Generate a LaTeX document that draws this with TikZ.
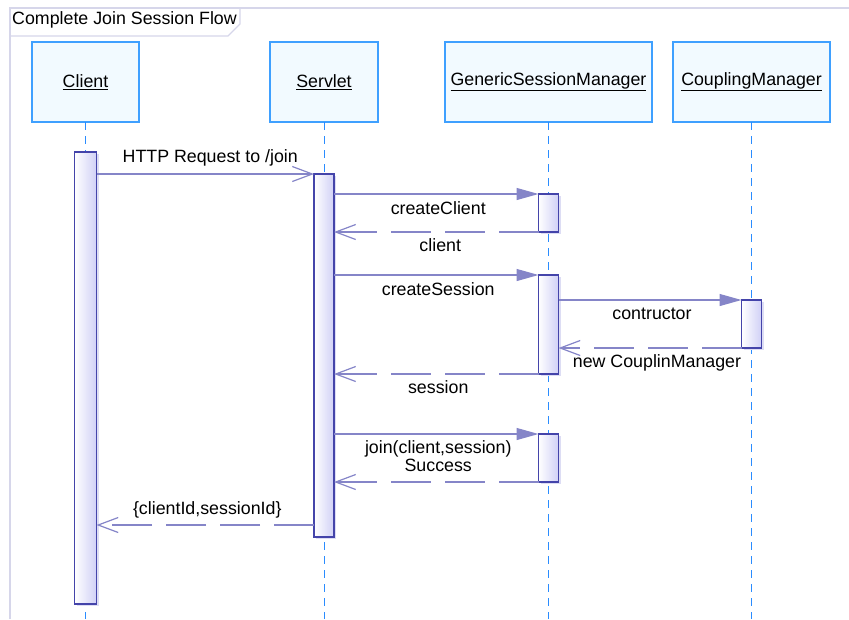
\documentclass[tikz,border=0pt]{standalone}
\usepackage{fontspec}
\setmainfont{Liberation Sans}
\usepackage{tikz}
\usetikzlibrary{shadows,shadings}
\usetikzlibrary{positioning, arrows.meta}
\usepackage{xcolor}

\definecolor{objline}{HTML}{3FA0FF}
\definecolor{objfill}{HTML}{F2FAFF}
\definecolor{frameline}{HTML}{D6D6EA}
\definecolor{msgline}{HTML}{8585C8}
\definecolor{barline}{HTML}{4444AA}
\definecolor{barfill}{HTML}{D0D0F6}
\definecolor{barshadow}{HTML}{DDDDF4}
\definecolor{lifecol}{HTML}{2A8CFF}

\tikzset{
	obj/.style={draw=objline, fill=objfill, line width=1.2pt, minimum height=80pt, inner sep=0pt, outer sep=0pt},
	bar/.style={draw=barline, line width=1.2pt, left color=white, right color=barfill, minimum width=20pt, inner sep=0pt, outer sep=0pt,
		drop shadow={shadow xshift=2pt, shadow yshift=-2pt, fill=barshadow, opacity=1}},
	lifeline/.style={draw=lifecol, line width=1pt, dash pattern=on 8pt off 6pt},
	call/.style={draw=msgline, line width=1.2pt, -{Triangle[length=22pt, width=12pt, fill=msgline]}},
	reply/.style={draw=msgline, line width=1.2pt, dash pattern=on 40pt off 14pt, -{Straight Barb[length=20pt, width=15pt]}},
	lbl/.style={inner sep=1pt, text=black},
	frame/.style={draw=frameline, line width=1.2pt}
}

\begin{document}
\begin{tikzpicture}[x=1pt, y=-1pt, font=\fontsize{17.8pt}{18pt}\selectfont]
		\useasboundingbox (0,0) rectangle (849,619);
		\coordinate (bottom) at (0,619);
		
		\draw[frame] (10,619) -- (10,8) -- (849,8);
		\draw[frame] (10,36) -- (228,36) -- (240,24) -- (240,8);
		\node[anchor=base west, inner sep=0pt] (title) at (12,24) {Complete Join Session Flow};
		
		\node[obj, minimum width=107pt] (client) at (85.5,82) {\underline{Client}};
		\node[obj, minimum width=108pt, right=131pt of client] (servlet) {\underline{Servlet}};
		\node[obj, minimum width=207pt, right=67pt of servlet] (gsm) {\underline{GenericSessionManager}};
		\node[obj, minimum width=157pt, right=21pt of gsm] (cm) {\underline{CouplingManager}};
		
		\draw[lifeline] (client) -- (client |- bottom);
		\draw[lifeline] (servlet) -- (servlet |- bottom);
		\draw[lifeline] (gsm) -- (gsm |- bottom);
		\draw[lifeline] (cm) -- (cm |- bottom);
		
		\node[bar, minimum width=22pt, minimum height=452pt, below=30pt of client] (cbar) {};
		\node[bar, minimum height=363pt, below=52pt of servlet] (sbar) {};
		\node[bar, minimum height=38pt, below=72pt of gsm] (g1) {};
		\node[bar, minimum height=99pt, below=153pt of gsm] (g2) {};
		\node[bar, minimum height=48pt, below=312pt of gsm] (g3) {};
		\node[bar, minimum height=48pt, below=178pt of cm] (cmbar) {};
		\coordinate[above=12pt of sbar.south west] (ret);
		
		\draw[reply, dash pattern=, -{Straight Barb[length=20pt, width=15pt]}] (cbar.east |- sbar.north) -- (sbar.north west) node[lbl, above=6pt, midway, xshift=5pt]{HTTP Request to /join};
		\draw[call] (sbar.east |- g1.north) -- (g1.north west) node[lbl, below=6pt, midway, xshift=2pt]{createClient};
		\draw[reply] (g1.south west) -- (sbar.east |- g1.south) node[lbl, below=5pt, midway, xshift=4pt]{client};
		\draw[call] (sbar.east |- g2.north) -- (g2.north west) node[lbl, below=6pt, midway, xshift=2pt]{createSession};
		\draw[call] (g2.east |- cmbar.north) -- (cmbar.north west) node[lbl, below=6pt, midway, xshift=2pt]{contructor};
		\draw[reply] (cmbar.south west) -- (g2.east |- cmbar.south) node[lbl, below=5pt, midway, xshift=7pt]{new CouplinManager};
		\draw[reply] (g2.south west) -- (sbar.east |- g2.south) node[lbl, below=5pt, midway, xshift=2pt]{session};
		\draw[call] (sbar.east |- g3.north) -- (g3.north west) node[lbl, below=5pt, midway, xshift=2pt, align=center]{join(client,session)\\Success};
		\draw[reply] (g3.south west) -- (sbar.east |- g3.south);
		\draw[reply] (ret) -- (cbar.east |- ret) node[lbl, above=5pt, midway, xshift=2pt]{\{clientId,sessionId\}};
	\end{tikzpicture}
\end{document}
